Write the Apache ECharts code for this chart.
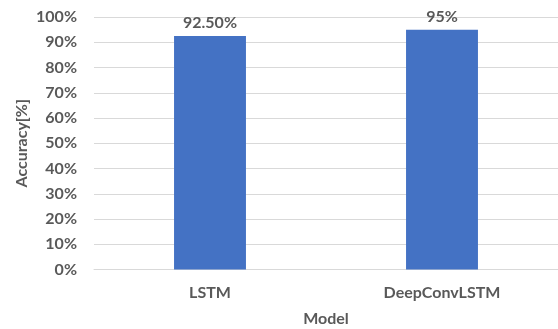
<!DOCTYPE html>
<html>
<head>
<meta charset="utf-8">
<script src="https://cdn.jsdelivr.net/npm/echarts@6/dist/echarts.min.js"></script>
<style>
  html, body { margin: 0; padding: 0; background: #fff; }
  #chart { width: 558px; height: 329px; }
</style>
</head>
<body>
<div id="chart"></div>
<script>
// Model accuracy comparison
const models = ['LSTM', 'DeepConvLSTM'];
const accuracy = [92.5, 95];
const accuracyLabels = ['92.50%', '95%'];

const textColor = '#595959';
const fontFamily = 'Lato, "Open Sans", sans-serif';
const fontSize = 16;

const chart = echarts.init(document.getElementById('chart'), null, { renderer: 'canvas' });
chart.setOption({
  animation: false,
  textStyle: { fontFamily: fontFamily },
  grid: { left: 94, right: 0, top: 17, bottom: 59.5, containLabel: false, outerBoundsMode: 'none' },
  xAxis: {
    type: 'category',
    data: models,
    name: 'Model',
    nameLocation: 'middle',
    nameGap: 41,
    nameTextStyle: { color: textColor, fontSize: fontSize, fontWeight: 'bold', fontFamily: fontFamily },
    axisLine: { show: true, lineStyle: { color: '#d9d9d9', width: 1 } },
    axisTick: { show: false },
    axisLabel: { color: textColor, fontSize: fontSize, fontWeight: 'bold', margin: 15, fontFamily: fontFamily }
  },
  yAxis: {
    type: 'value',
    min: 0,
    max: 100,
    interval: 10,
    name: 'Accuracy[%]',
    nameLocation: 'middle',
    nameGap: 64,
    nameMoveOverlap: false,
    nameTextStyle: { color: textColor, fontSize: fontSize, fontWeight: 'bold', fontFamily: fontFamily },
    axisLine: { show: false },
    axisTick: { show: false },
    axisLabel: { color: textColor, fontSize: fontSize, fontWeight: 'bold', margin: 17, formatter: '{value}%', fontFamily: fontFamily },
    splitLine: { show: true, lineStyle: { color: '#d9d9d9', width: 1 } }
  },
  series: [{
    type: 'bar',
    data: accuracy,
    barWidth: '31%',
    itemStyle: { color: '#4472C4' },
    label: {
      show: true,
      position: 'top',
      distance: 5,
      color: textColor,
      fontSize: fontSize,
      fontWeight: 'bold',
      fontFamily: fontFamily,
      formatter: p => accuracyLabels[p.dataIndex]
    }
  }]
});
</script>
</body>
</html>
